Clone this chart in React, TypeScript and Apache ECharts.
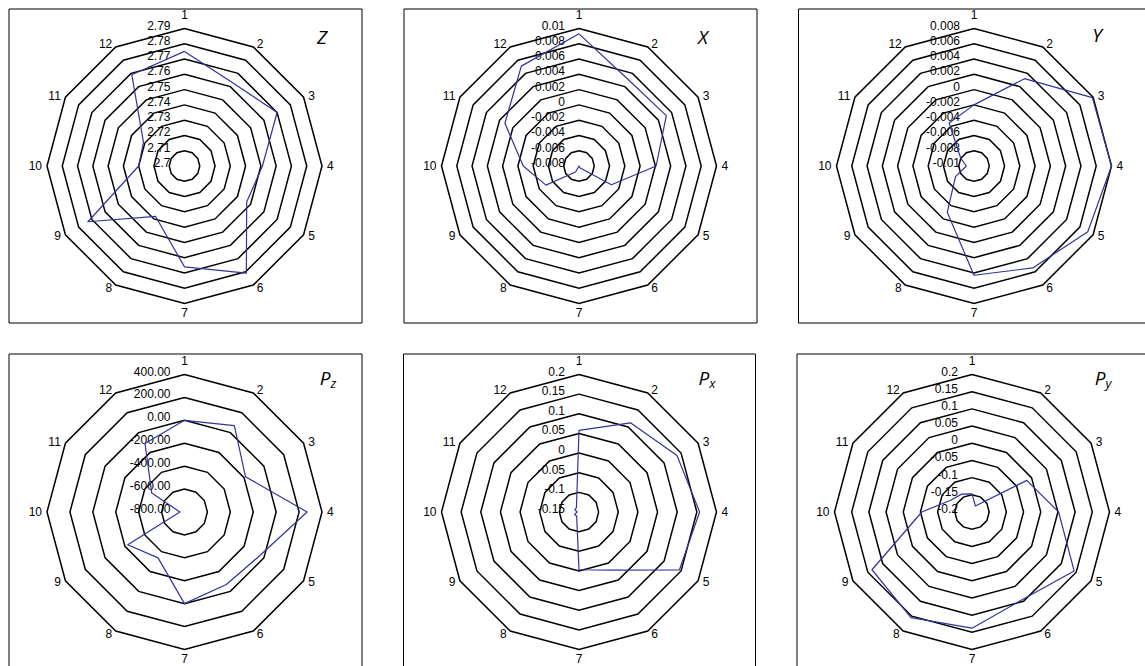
import React, { useEffect, useRef } from 'react';
import * as echarts from 'echarts';

// spokes, clockwise from top
const categories = ['1', '2', '3', '4', '5', '6', '7', '8', '9', '10', '11', '12'];

// series values, spoke 1..12
const zValues = [2.775, 2.763, 2.77, 2.751, 2.747, 2.781, 2.766, 2.738, 2.773, 2.73, 2.731, 2.769];
const xValues = [0.0093, 0.005, 0.0052, 0.0021, -0.0031, -0.0077, -0.008, -0.0071, -0.003, -0.0007, 0.0032, 0.0071];
const yValues = [-0.002, 0.0032, 0.0079, 0.008, 0.0072, 0.0054, 0.0043, -0.003, -0.0072, -0.009, -0.008, -0.0035];
const pzValues = [0, 70, -185, 270, -40, -70, 0, -338, -228, -760, -470, -110];
const pxValues = [0.058, 0.112, 0.138, 0.157, 0.145, 0.021, -0.003, -0.138, -0.137, -0.145, -0.138, -0.137];
const pyValues = [-0.147, -0.18, -0.016, 0.052, 0.143, 0.094, 0.138, 0.155, 0.136, -0.054, -0.13, -0.14];

// value scales: [centre value, outer ring value, ring step]
const zScale = [2.7, 2.79, 0.01];
const xScale = [-0.008, 0.01, 0.002];
const yScale = [-0.01, 0.008, 0.002];
const pzScale = [-800, 400, 200];
const pxScale = [-0.15, 0.2, 0.05];
const pyScale = [-0.2, 0.2, 0.05];

// panel titles: [main letter, subscript]
const titles = [['Z', ''], ['X', ''], ['Y', ''], ['P', 'z'], ['P', 'x'], ['P', 'y']];

const FONT = '"Liberation Sans", Arial, sans-serif';
const R = 137.5;

export default function App() {
  const ref = useRef<HTMLDivElement>(null);
  useEffect(() => {
    if (!ref.current) return;
    const chart = echarts.init(ref.current, null, { renderer: 'svg' });

    const panels = [
      { vals: zValues, sc: zScale, cx: 184.5, cy: 166, box: [9, 9, 353, 314], tx: 322, ty: 37, fmt: null },
      { vals: xValues, sc: xScale, cx: 579, cy: 166, box: [404, 9, 353, 314], tx: 703, ty: 37, fmt: null },
      { vals: yValues, sc: yScale, cx: 974, cy: 166, box: [798.5, 9, 400, 314], tx: 1097, ty: 35, fmt: null },
      { vals: pzValues, sc: pzScale, cx: 184.5, cy: 512, box: [9, 354, 353, 400], tx: 328, ty: 378, fmt: 2 },
      { vals: pxValues, sc: pxScale, cx: 579, cy: 512, box: [403.5, 354, 352, 400], tx: 707, ty: 378, fmt: null },
      { vals: pyValues, sc: pyScale, cx: 972, cy: 512, box: [797, 354, 400, 400], tx: 1103, ty: 378, fmt: null },
    ];

    // clockwise order: ECharts radar places indicators counter-clockwise
    const order = [0, 11, 10, 9, 8, 7, 6, 5, 4, 3, 2, 1];

    const radar: any[] = [];
    const series: any[] = [];
    const grid: any[] = [];
    const xAxis: any[] = [];
    const yAxis: any[] = [];
    const graphic: any[] = [];

    panels.forEach((p, i) => {
      const [mn, mx, st] = p.sc;
      const n = Math.round((mx - mn) / st);
      radar.push({
        center: [p.cx, p.cy],
        radius: R,
        startAngle: 90,
        splitNumber: n,
        shape: 'polygon',
        nameGap: 3,
        axisName: { color: '#000', fontSize: 12, fontFamily: FONT, padding: [0, 2, 5, 2] },
        axisLine: { show: false },
        axisTick: { show: false },
        axisLabel: { show: false },
        splitArea: { show: false },
        splitLine: { lineStyle: { color: '#000', width: 1.5 } },
        indicator: order.map((k) => ({ name: categories[k], min: mn, max: mx })),
      });
      series.push({
        type: 'radar',
        radarIndex: i,
        symbol: 'none',
        silent: true,
        lineStyle: { color: '#333399', width: 1.2 },
        data: [{ value: order.map((k) => p.vals[k]) }],
      });
      grid.push({ left: p.cx - 14, top: p.cy - R - 3, width: 1, height: R });
      xAxis.push({ gridIndex: i, type: 'value', show: false, min: 0, max: 1 });
      const digits = p.fmt;
      yAxis.push({
        gridIndex: i,
        type: 'value',
        min: mn,
        max: mx,
        interval: st,
        axisLine: { show: false },
        axisTick: { show: false },
        splitLine: { show: false },
        axisLabel: {
          margin: 0,
          fontSize: 12,
          color: '#000',
          fontFamily: FONT,
          formatter: (v: number) =>
            digits != null ? v.toFixed(digits) : String(parseFloat(v.toFixed(6))),
        },
      });
      const [bx, by, bw, bh] = p.box;
      graphic.push({
        type: 'rect',
        shape: { x: bx, y: by, width: bw, height: bh },
        style: { fill: 'none', stroke: '#000', lineWidth: 1 },
        silent: true,
      });
      const [main, sub] = titles[i];
      graphic.push({
        type: 'text',
        x: p.tx,
        y: p.ty,
        style: {
          text: sub ? `{m|${main}}{s|${sub}}` : `{m|${main}}`,
          align: 'center',
          verticalAlign: 'middle',
          fill: '#000',
          rich: {
            m: { fontSize: 19, fontStyle: 'italic', fontFamily: '"Open Sans", sans-serif', fill: '#000' },
            s: { fontSize: 13, fontStyle: 'italic', fontFamily: '"Open Sans", sans-serif', fill: '#000', padding: [10, 0, 0, 0] },
          },
        },
        silent: true,
      });
    });

    chart.setOption({
      animation: false,
      backgroundColor: '#fff',
      radar,
      series,
      grid,
      xAxis,
      yAxis,
      graphic,
    });
    return () => chart.dispose();
  }, []);

  return (
    <div
      ref={ref}
      style={{ position: 'absolute', left: 0, top: 0, width: 1145, height: 666 }}
    />
  );
}
